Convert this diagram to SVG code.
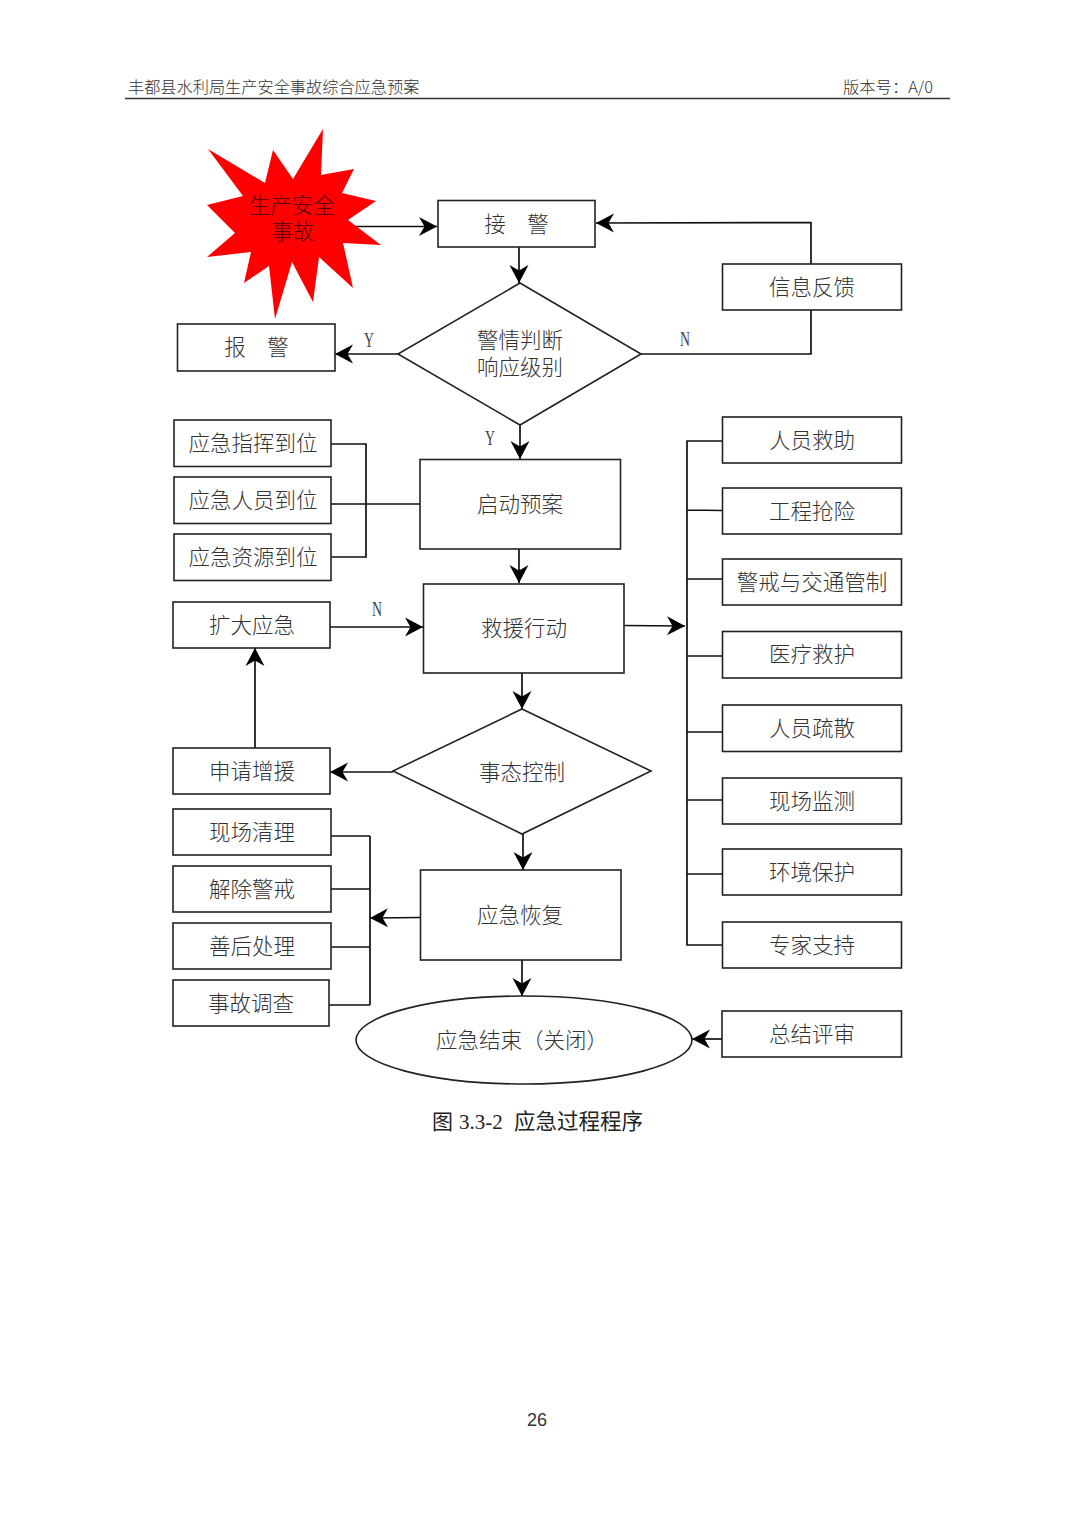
<svg xmlns="http://www.w3.org/2000/svg" width="1074" height="1520" viewBox="0 0 1074 1520">
<style>
.b{fill:#fff;stroke:#222;stroke-width:1.6}
.t{font-family:"Noto Sans CJK SC","Liberation Serif",serif;font-size:21.5px;fill:#333;text-anchor:middle;font-weight:300}
.l{font-family:"Liberation Serif","Noto Sans CJK SC",serif;font-size:21px;fill:#444;text-anchor:middle}
.h{font-family:"Noto Sans CJK SC","Liberation Serif",serif;font-size:16.2px;fill:#333;font-weight:300}
.c{fill:none;stroke:#111;stroke-width:1.7}
.a{marker-end:url(#arrow)}
</style>
<defs>
<marker id="arrow" markerUnits="userSpaceOnUse" markerWidth="24" markerHeight="24" refX="20" refY="12" orient="auto">
<path d="M20 12 L2 2.500 L7.500 12 L2 21.500 Z" fill="#000"/>
</marker>
</defs>
<rect width="1074" height="1520" fill="#fff"/>
<g id="header">
<text class="h" x="128" y="93">丰都县水利局生产安全事故综合应急预案</text>
<text class="h" x="843" y="93" textLength="90" lengthAdjust="spacingAndGlyphs">版本号&#xFF1A;A/0</text>
<line x1="125" y1="98.500" x2="950" y2="98.500" stroke="#333" stroke-width="1.300"/>
</g>
<g id="connectors">
<path class="c a" d="M352 226.500H437"/>
<path class="c a" d="M519 247V283"/>
<path class="c a" d="M398 354H335"/>
<path class="c" d="M641 354H811V310"/>
<path class="c a" d="M811 264V222.500L596 223"/>
<path class="c a" d="M520 425V459"/>
<path class="c" d="M331 444H366V557H331M331 504H420"/>
<path class="c a" d="M519 549V583"/>
<path class="c a" d="M330 627H423"/>
<path class="c a" d="M522 673V709"/>
<path class="c a" d="M393 772H330"/>
<path class="c a" d="M255 748V648"/>
<path class="c a" d="M523 834V870"/>
<path class="c a" d="M420 917.500L370 918"/>
<path class="c" d="M331 836H370M331 889H370M331 947H370M329 1005H370M370 836V1005"/>
<path class="c a" d="M522 960V996"/>
<path class="c a" d="M722 1039H692"/>
<path class="c a" d="M624 625.500L685 626"/>
<path class="c" d="M722 441H687V945H722M687 510L722 510.500M687 579H722M687 656H722M687 732H722M687 800H722M687 874H722"/>
</g>
<g id="accident">
<polygon fill="#fe0000" points="208,149 265,183 273,150 293,179 323,129 321,175 354,169 342,193 376,201 348,220 381,245 343,243 353,288 319,257 313,302 292,262 275,319 269,266 244,283 251,252 207,257 235,233 207,205 243,196"/>
<text class="t" style="fill:#5e0000"><tspan x="292" y="213">生产安全</tspan><tspan x="293" y="239">事故</tspan></text>
</g>
<g id="n-jiejing"><rect class="b" x="438" y="200.500" width="157" height="46.500"/><text class="t" y="232"><tspan x="495">接</tspan><tspan x="538">警</tspan></text></g>
<g id="n-xinxi"><rect class="b" x="722.500" y="264" width="179" height="46"/><text class="t" x="812" y="295">信息反馈</text></g>
<g id="n-panduan"><polygon class="b" points="520,283 641,354 520,425 398,354"/><text class="t"><tspan x="520" y="348">警情判断</tspan><tspan x="520" y="375">响应级别</tspan></text></g>
<g id="n-baojing"><rect class="b" x="177.500" y="324" width="157.500" height="47"/><text class="t" y="355"><tspan x="235">报</tspan><tspan x="278">警</tspan></text></g>
<g id="n-zhihui"><rect class="b" x="174" y="420" width="157" height="46.500"/><text class="t" x="253" y="451">应急指挥到位</text></g>
<g id="n-renyuan"><rect class="b" x="174" y="477" width="157" height="46.500"/><text class="t" x="253" y="508">应急人员到位</text></g>
<g id="n-ziyuan"><rect class="b" x="174" y="534" width="157" height="46.500"/><text class="t" x="253" y="565">应急资源到位</text></g>
<g id="n-qidong"><rect class="b" x="420" y="459.500" width="200.500" height="89.500"/><text class="t" x="520" y="512">启动预案</text></g>
<g id="n-jiuyuan"><rect class="b" x="423.500" y="584" width="200.500" height="89"/><text class="t" x="524" y="636">救援行动</text></g>
<g id="n-kuoda"><rect class="b" x="173" y="602" width="157" height="46"/><text class="t" x="252" y="633">扩大应急</text></g>
<g id="n-kongzhi"><polygon class="b" points="522,709 651,771 522,834 393,771"/><text class="t" x="522" y="780">事态控制</text></g>
<g id="n-shenqing"><rect class="b" x="173" y="748" width="157" height="46"/><text class="t" x="252" y="779">申请增援</text></g>
<g id="n-qingli"><rect class="b" x="173" y="809" width="158" height="46"/><text class="t" x="252" y="840">现场清理</text></g>
<g id="n-jiechu"><rect class="b" x="173" y="866" width="158" height="46"/><text class="t" x="252" y="897">解除警戒</text></g>
<g id="n-shanhou"><rect class="b" x="173" y="923" width="158" height="46"/><text class="t" x="252" y="954">善后处理</text></g>
<g id="n-diaocha"><rect class="b" x="173" y="980" width="156" height="46"/><text class="t" x="251" y="1011">事故调查</text></g>
<g id="n-huifu"><rect class="b" x="420.500" y="870" width="200.500" height="90"/><text class="t" x="520" y="923">应急恢复</text></g>
<g id="n-jieshu"><ellipse class="b" cx="524" cy="1040" rx="168" ry="44"/><text class="t" x="522" y="1048">应急结束&#xFF08;关闭&#xFF09;</text></g>
<g id="n-zongjie"><rect class="b" x="722" y="1011" width="179.500" height="46"/><text class="t" x="812" y="1042">总结评审</text></g>
<g id="n-jiuzhu"><rect class="b" x="722.500" y="417" width="179" height="46"/><text class="t" x="812" y="448">人员救助</text></g>
<g id="n-qiangxian"><rect class="b" x="722.500" y="488" width="179" height="46"/><text class="t" x="812" y="519">工程抢险</text></g>
<g id="n-jiaotong"><rect class="b" x="722.500" y="559" width="179" height="46"/><text class="t" x="812" y="590">警戒与交通管制</text></g>
<g id="n-yiliao"><rect class="b" x="722.500" y="631.500" width="179" height="46.500"/><text class="t" x="812" y="662">医疗救护</text></g>
<g id="n-shusan"><rect class="b" x="722.500" y="705" width="179" height="46.500"/><text class="t" x="812" y="736">人员疏散</text></g>
<g id="n-jiance"><rect class="b" x="722.500" y="778" width="179" height="46"/><text class="t" x="812" y="809">现场监测</text></g>
<g id="n-huanjing"><rect class="b" x="722.500" y="849" width="179" height="46"/><text class="t" x="812" y="880">环境保护</text></g>
<g id="n-zhuanjia"><rect class="b" x="722.500" y="922" width="179" height="46"/><text class="t" x="812" y="953">专家支持</text></g>
<g id="labels">
<text class="l" x="364" y="347" textLength="10" lengthAdjust="spacingAndGlyphs" style="text-anchor:start">Y</text>
<text class="l" x="680" y="346" textLength="10" lengthAdjust="spacingAndGlyphs" style="text-anchor:start">N</text>
<text class="l" x="485" y="445" textLength="10" lengthAdjust="spacingAndGlyphs" style="text-anchor:start">Y</text>
<text class="l" x="372" y="616" textLength="10" lengthAdjust="spacingAndGlyphs" style="text-anchor:start">N</text>
</g>
<g id="caption">
<text x="432" y="1129" style="font-family:'Noto Sans CJK SC',serif;font-size:21px;fill:#222">图</text>
<text x="459" y="1129" style="font-family:'Liberation Serif',serif;font-size:21px;fill:#222">3.3-2</text>
<text x="514" y="1129" style="font-family:'Noto Sans CJK SC',serif;font-size:21.500px;fill:#222">应急过程程序</text>
</g>
<text id="page" x="537" y="1426" style="font-family:'Liberation Sans',sans-serif;font-size:18px;fill:#333;text-anchor:middle">26</text>
</svg>
